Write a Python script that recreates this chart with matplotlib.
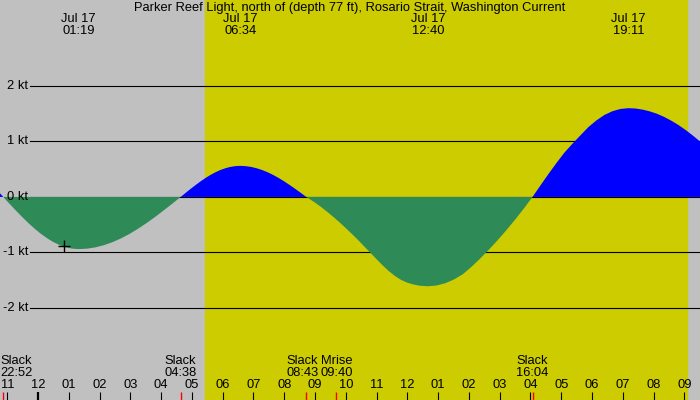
import matplotlib
matplotlib.use('Agg')
import matplotlib.pyplot as plt
import numpy as np

# hours relative to Jul 17 00:00, current speed in knots
hours = [-1.238,
         -1.133, -0.929, -0.725, -0.520, -0.317, -0.112, 0.092, 0.296, 0.500,
         0.704, 0.908, 1.113, 1.317,
         1.593, 1.870, 2.146, 2.422, 2.699, 2.975, 3.251, 3.528, 3.804, 4.080,
         4.357, 4.633,
         4.794, 4.955, 5.117, 5.278, 5.439, 5.600, 5.761, 5.922, 6.084, 6.245,
         6.406, 6.567,
         6.746, 6.925, 7.104, 7.283, 7.463, 7.642, 7.821, 8.000, 8.179, 8.358,
         8.538, 8.717,
         9.0, 9.2, 9.4, 9.6, 9.8, 10.0, 10.2, 10.4, 10.6, 10.8, 11.0, 11.2,
         11.4, 11.6, 11.8, 12.0, 12.2, 12.4, 12.667,
         12.950, 13.233, 13.517, 13.800, 14.083, 14.367, 14.650, 14.933,
         15.217, 15.500, 15.784, 16.067,
         16.327, 16.586, 16.846, 17.106, 17.366, 17.625, 17.885, 18.145,
         18.404, 18.664, 18.924, 19.183,
         19.416, 19.648, 19.881, 20.114, 20.347, 20.579, 20.812, 21.045,
         21.277, 21.51]
speed = [0.065,
         0.0, -0.123, -0.243, -0.360, -0.47, -0.572, -0.665, -0.746, -0.814,
         -0.868, -0.908, -0.932, -0.94,
         -0.932, -0.908, -0.868, -0.814, -0.746, -0.665, -0.572, -0.47, -0.360,
         -0.243, -0.123, 0.0,
         0.073, 0.145, 0.214, 0.28, 0.341, 0.396, 0.444, 0.485, 0.517, 0.541,
         0.555, 0.56,
         0.555, 0.541, 0.517, 0.485, 0.444, 0.396, 0.341, 0.28, 0.214, 0.145,
         0.073, 0.0,
         -0.102, -0.183, -0.270, -0.362, -0.460, -0.562, -0.668, -0.778,
         -0.892, -1.007, -1.122, -1.235, -1.338, -1.426, -1.496, -1.546,
         -1.578, -1.600, -1.61,
         -1.596, -1.555, -1.487, -1.394, -1.26, -1.11, -0.95, -0.78, -0.60,
         -0.41, -0.21, 0.0,
         0.209, 0.414, 0.612, 0.80, 0.96, 1.11, 1.26, 1.38, 1.478, 1.545,
         1.586, 1.60,
         1.594, 1.574, 1.542, 1.499, 1.442, 1.374, 1.296, 1.206, 1.107, 1.00]

# max current events (top labels)
max_times = [1.317, 6.567, 12.667, 19.183]
max_labels = ['01:19', '06:34', '12:40', '19:11']

# slack / moonrise events (bottom labels)
slack_times = [-1.133, 4.633, 8.717, 16.067]
slack_labels = ['22:52', '04:38', '08:43', '16:04']
mrise_time = 9.667
mrise_label = '09:40'

sunrise, sunset = 5.42, 21.09
now_t, now_v = 0.84, -0.88

kt_levels = [2, 1, 0, -1, -2]
hour_ticks = list(range(-1, 22))

plt.rcParams['font.family'] = ['Liberation Sans', 'DejaVu Sans']
fs = 9.3

fig = plt.figure(figsize=(7, 4), dpi=100)
ax = fig.add_axes([0, 0, 1, 1])
ax.set_xlim(-1.238, 21.51)
ax.set_ylim(-3.66, 3.55)
ax.axis('off')
ax.add_patch(plt.Rectangle((0, 0), 1, 1, transform=ax.transAxes,
                           color='#c0c0c0', zorder=0))
ax.axvspan(sunrise, sunset, color='#cccc00', zorder=1)

yt = ax.get_yaxis_transform()
xt = ax.get_xaxis_transform()

for k in kt_levels:
    ax.axhline(k, xmin=30 / 700, xmax=1, color='black', lw=0.8, zorder=2)
    ax.text(0.04, k, f'{k} kt', transform=yt, ha='right', va='center',
            fontsize=fs, zorder=5)

t = np.array(hours)
v = np.array(speed)
ax.fill_between(t, v, 0, where=v >= 0, interpolate=True, color='#0000ff',
                lw=0, zorder=3)
ax.fill_between(t, v, 0, where=v <= 0, interpolate=True, color='#2e8b57',
                lw=0, zorder=3)

ax.plot(now_t, now_v, marker='+', color='black', ms=9, mew=1, zorder=6)

ax.text(0.5, 0.98, 'Parker Reef Light, north of (depth 77 ft), Rosario Strait, Washington Current',
        transform=ax.transAxes, ha='center', va='center', fontsize=fs)
for mt, ml in zip(max_times, max_labels):
    ax.text(mt, 0.9525, 'Jul 17', transform=xt, ha='center', va='center', fontsize=fs)
    ax.text(mt, 0.9225, ml, transform=xt, ha='center', va='center', fontsize=fs)

# hour ticks along the bottom
for h in hour_ticks:
    hh = h % 12 or 12
    lbl = f'{hh:02d}'
    ax.text(h, 0.0375, lbl, transform=xt, ha='center', va='center', fontsize=fs)
    ax.plot([h, h], [0, 0.02], transform=xt, color='black',
            lw=1.6 if h == 0 else 0.8, zorder=6, solid_capstyle='butt')

for i, (st, sl) in enumerate(zip(slack_times, slack_labels)):
    ax.plot([st, st], [0, 0.02], transform=xt, color='red', lw=1.0, zorder=6,
            solid_capstyle='butt')
    if i == 0:
        ax.text(0.0, 0.0975, 'Slack', transform=ax.transAxes, ha='left', va='center', fontsize=fs)
        ax.text(0.0, 0.0675, sl, transform=ax.transAxes, ha='left', va='center', fontsize=fs)
        continue
    x = st - 0.12 if i == 2 else st
    ax.text(x, 0.0975, 'Slack', transform=xt, ha='center', va='center', fontsize=fs)
    ax.text(x, 0.0675, sl, transform=xt, ha='center', va='center', fontsize=fs)

ax.plot([mrise_time, mrise_time], [0, 0.02], transform=xt, color='red', lw=1.0,
        zorder=6, solid_capstyle='butt')
ax.text(mrise_time + 0.03, 0.0975, 'Mrise', transform=xt, ha='center', va='center', fontsize=fs)
ax.text(mrise_time + 0.03, 0.0675, mrise_label, transform=xt, ha='center', va='center', fontsize=fs)

fig.savefig('out.png', dpi=100)
